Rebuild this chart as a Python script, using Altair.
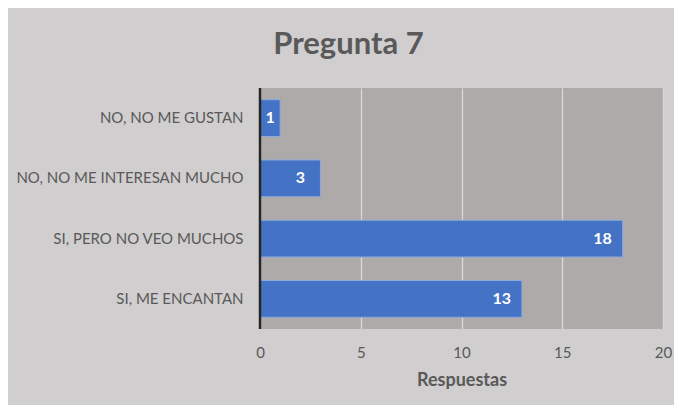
import altair as alt
import pandas as pd

categories = ["NO, NO ME GUSTAN", "NO, NO ME INTERESAN MUCHO", "SI, PERO NO VEO MUCHOS", "SI, ME ENCANTAN"]
values = [1, 3, 18, 13]
x_ticks = [0, 5, 10, 15, 20]

df = pd.DataFrame({"respuesta": categories, "n": values})

FONT = "Lato"
GRAY = "#595959"

x_enc = alt.X(
    "n:Q",
    scale=alt.Scale(domain=[0, 20], nice=False),
    title="Respuestas",
    axis=alt.Axis(
        values=x_ticks, grid=True, gridColor="#d9d9d9", gridWidth=1.3,
        ticks=False, domain=False, labelFlush=False, labelFont=FONT, labelFontSize=15,
        labelColor=GRAY, labelPadding=16, titleFont=FONT, titleFontSize=18,
        titleFontWeight="bold", titleColor=GRAY, titlePadding=11,
    ),
)
y_enc = alt.Y(
    "respuesta:N", sort=categories, title=None,
    scale=alt.Scale(paddingInner=0.39, paddingOuter=0.195),
    axis=alt.Axis(
        labelFont=FONT, labelFontSize=15, labelColor=GRAY, labelPadding=17,
        labelLimit=400, ticks=False, domain=False, grid=False,
    ),
)

bars = alt.Chart(df).mark_bar(color="#4472c4", stroke="#8eaadb", strokeWidth=1).encode(x=x_enc, y=y_enc)
labels = alt.Chart(df).transform_calculate(
    pos="max(datum.n - 1, datum.n / 2)"
).mark_text(
    align="center", color="white", font=FONT, fontWeight="bold", fontSize=16
).encode(x="pos:Q", y=alt.Y("respuesta:N", sort=categories), text="n:Q")
zero = alt.Chart(pd.DataFrame({"x": [0]})).mark_rule(color="#262626", strokeWidth=2.5).encode(x="x:Q")

chart = alt.layer(bars, zero, labels).properties(
    width=403, height=241,
    autosize=alt.AutoSizeParams(type="none"),
    padding={"left": 252, "top": 80, "right": 11, "bottom": 76},
    background="#d0cece",
    title=alt.TitleParams(
        "Pregunta 7", font=FONT, fontSize=31, fontWeight="bold", color=GRAY,
        anchor="middle", dx=-113, offset=26,
    ),
).configure_view(fill="#aeaaaa", stroke=None)

chart.save("out.html", embed_options={"renderer": "svg", "actions": False})
